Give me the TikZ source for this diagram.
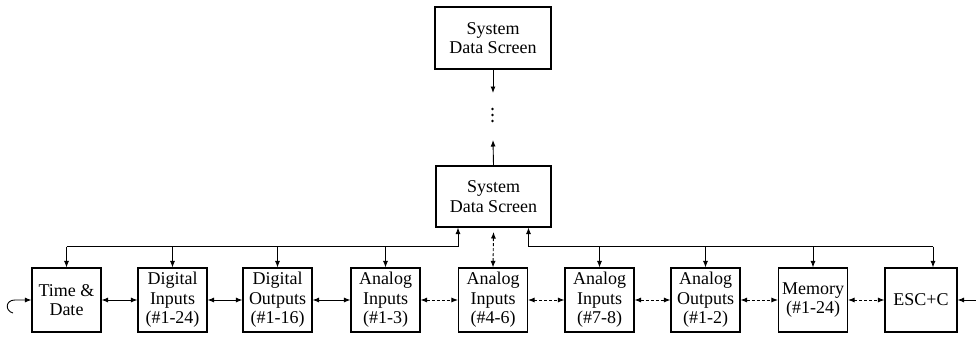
\documentclass[tikz,border=0pt]{standalone}
\usepackage{fontspec}
\setmainfont{Liberation Serif}
\usetikzlibrary{arrows.meta}
\begin{document}
\begin{tikzpicture}[x=1pt,y=-1pt,
  box/.style={draw, line width=1.1pt, rectangle, align=center, inner sep=0pt,
    minimum width=69pt, minimum height=64pt, font=\fontsize{18}{19.5}\selectfont},
  arr/.style={line width=0.9pt, -{Latex[length=6.5pt,width=5pt]}},
  darr/.style={line width=0.9pt, {Latex[length=6.5pt,width=5pt]}-{Latex[length=6.5pt,width=5pt]}},
  dsh/.style={dash pattern=on 3pt off 2pt}]
\useasboundingbox (0,0) rectangle (976,337);
% top screens
\node[box, minimum width=116pt, minimum height=62pt] (S1) at (493,38) {System\\Data Screen};
\node[box, minimum width=115pt, minimum height=61pt] (S2) at (493.5,196.5) {System\\Data Screen};
% bottom row
\node[box] (TD) at (66.5,300) {Time \&\\Date};
\node[box] (DI) at (172.5,300) {Digital\\Inputs\\(\#1-24)};
\node[box] (DO) at (277.5,300) {Digital\\Outputs\\(\#1-16)};
\node[box] (A1) at (385.5,300) {Analog\\Inputs\\(\#1-3)};
\node[box] (A2) at (493,300) {Analog\\Inputs\\(\#4-6)};
\node[box] (A3) at (599.5,300) {Analog\\Inputs\\(\#7-8)};
\node[box] (AO) at (705.5,300) {Analog\\Outputs\\(\#1-2)};
\node[box] (ME) at (813,300) {Memory\\(\#1-24)};
\node[box, minimum width=72pt] (ES) at (921,300) {ESC+C};
% top chain
\coordinate (t1) at (493,93);
\coordinate (t2) at (493,140);
\draw[arr] (S1.south) -- (t1);
\draw[arr] (S2.north) -- (t2);
\foreach \yy in {109,115,121} \fill (492.5,\yy) circle (1.3pt);
% bus coordinates
\coordinate (busy) at (0,246.5);
\coordinate (xL) at (458,0);
\coordinate (xR) at (528.5,0);
\coordinate (xE) at (933,0);
% left bus
\draw[arr] (TD.north |- busy) -- (xL |- busy) -- (xL |- S2.south);
\draw[arr] (TD.north |- busy) -- (TD.north);
\draw[arr] (DI.north |- busy) -- (DI.north);
\draw[arr] (DO.north |- busy) -- (DO.north);
\draw[arr] (A1.north |- busy) -- (A1.north);
% middle
\draw[darr, dsh] (S2.south |- 0,232) -- (A2.north);
% right bus
\draw[arr] (xE |- busy) -- (xR |- busy) -- (xR |- S2.south);
\draw[arr] (A3.north |- busy) -- (A3.north);
\draw[arr] (AO.north |- busy) -- (AO.north);
\draw[arr] (ME.north |- busy) -- (ME.north);
\draw[arr] (xE |- busy) -- (xE |- ES.north);
% horizontal links
\draw[darr] (TD.east) -- (DI.west);
\draw[darr] (DI.east) -- (DO.west);
\draw[darr] (DO.east) -- (A1.west);
\draw[darr, dsh] (A1.east) -- (A2.west);
\draw[darr, dsh] (A2.east) -- (A3.west);
\draw[darr, dsh] (A3.east) -- (AO.west);
\draw[darr, dsh] (AO.east) -- (ME.west);
\draw[darr, dsh] (ME.east) -- (ES.west);
% loop into Time & Date
\coordinate (lp) at (13,313);
\draw[arr] (lp) .. controls (5,311) and (5,300) .. (15,300) -- (TD.west);
% incoming to ESC+C
\coordinate (rin) at (976,300);
\draw[arr] (rin) -- (ES.east);
\end{tikzpicture}
\end{document}
